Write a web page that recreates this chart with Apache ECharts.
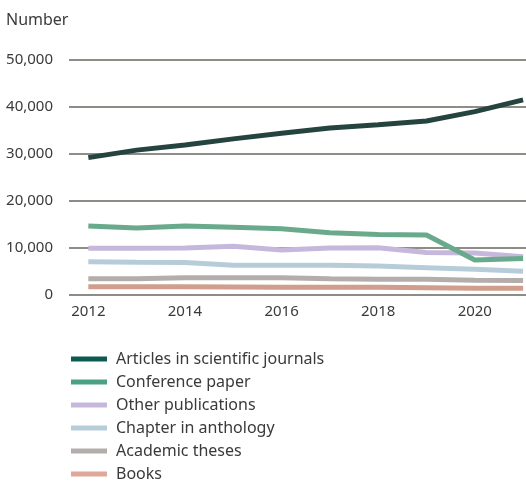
<!DOCTYPE html>
<html>
<head>
<meta charset="utf-8">
<script src="https://cdn.jsdelivr.net/npm/echarts@6/dist/echarts.min.js"></script>
<style>html,body{margin:0;padding:0;background:#fff}#c{width:526px;height:481px}</style>
</head>
<body>
<div id="c"></div>
<script>
const years = [2012, 2013, 2014, 2015, 2016, 2017, 2018, 2019, 2020, 2021];
const xTickLabels = [2012, 2014, 2016, 2018, 2020];
const yTicks = [0, 10000, 20000, 30000, 40000, 50000];
const seriesNames = ['Articles in scientific journals', 'Conference paper', 'Other publications', 'Chapter in anthology', 'Academic theses', 'Books'];
const articles = [29200, 30800, 31900, 33200, 34400, 35500, 36200, 37000, 39000, 41500];
const conference = [14650, 14200, 14650, 14350, 14050, 13200, 12800, 12700, 7400, 7700];
const other = [9900, 9900, 9950, 10300, 9500, 9950, 10000, 9000, 8900, 8100];
const chapter = [7000, 6900, 6850, 6250, 6250, 6250, 6100, 5750, 5400, 5000];
const theses = [3400, 3400, 3600, 3600, 3600, 3400, 3300, 3300, 3100, 3000];
const books = [1700, 1700, 1700, 1650, 1600, 1600, 1600, 1500, 1400, 1400];

const values = [articles, conference, other, chapter, theses, books];
const colors = ['#26443f', '#6aaa8c', '#c6b8dc', '#b6cdd9', '#b3aeab', '#cf9e8c'];
const legendColors = ['#0d5a50', '#4aa283', '#c6b8dc', '#b6cdd9', '#b3aeab', '#e0a898'];
const widths = [5, 5, 5, 5, 5, 5];

const font = '"Noto Sans", sans-serif';
const chart = echarts.init(document.getElementById('c'), null, {renderer: 'canvas'});
chart.setOption({
  animation: false,
  title: {text: 'Number', left: 1, top: 7, textStyle: {fontFamily: font, fontSize: 16, fontWeight: 'normal', color: '#3a3a3a'}},
  grid: {left: 69, right: 0, top: 60, height: 234.7, containLabel: false},
  xAxis: {
    type: 'value', min: 2011.6, max: 2021.06,
    splitLine: {show: false}, axisTick: {show: false},
    axisLine: {show: false},
    axisLabel: {customValues: xTickLabels, formatter: v => String(v), margin: 10, fontFamily: font, fontSize: 15, color: '#3a3a3a'}
  },
  yAxis: {
    type: 'value', min: 0, max: 50000, interval: 10000,
    axisLine: {show: false}, axisTick: {show: false},
    splitLine: {lineStyle: {color: '#67665f', width: 1.5}},
    axisLabel: {margin: 16, fontFamily: font, fontSize: 15, color: '#3a3a3a',
      formatter: v => v.toLocaleString('en-US')}
  },
  legend: {
    orient: 'vertical', left: 66, top: 345, height: 136, itemWidth: 36, itemHeight: 5, itemGap: 5,
    icon: 'rect',
    textStyle: {fontFamily: font, fontSize: 16, lineHeight: 18, color: '#3a3a3a', padding: [0, 0, 0, 4]},
    data: seriesNames.map((n, i) => ({name: n, itemStyle: {color: legendColors[i]}}))
  },
  series: seriesNames.map((n, i) => ({
    name: n, type: 'line', symbol: 'none', z: 10 - i,
    data: years.map((y, j) => [y, values[i][j]]),
    lineStyle: {color: colors[i], width: widths[i]},
    itemStyle: {color: colors[i]}
  }))
});
</script>
</body>
</html>
